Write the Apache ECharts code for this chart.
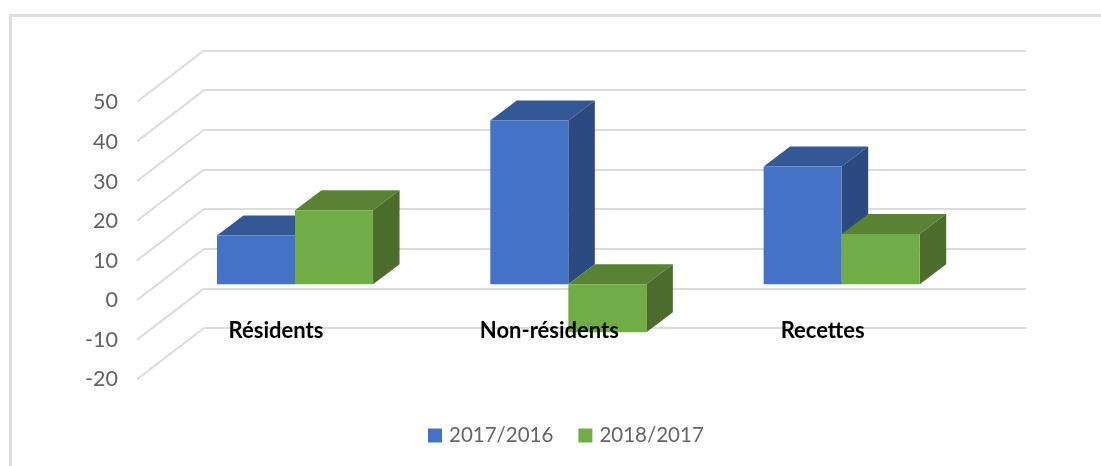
<!DOCTYPE html>
<html>
<head>
<meta charset="utf-8">
<style>html,body{margin:0;padding:0;background:#fff}#c{width:1101px;height:466px}</style>
<script src="https://cdn.jsdelivr.net/npm/echarts@6/dist/echarts.min.js"></script>
</head>
<body>
<div id="c"></div>
<script>
const categories = ['Résidents', 'Non-résidents', 'Recettes'];
const seriesNames = ['2017/2016', '2018/2017'];
const values2017 = [12.3, 41.3, 29.7];
const values2018 = [18.7, -12.1, 12.7];
const valueTicks = [50, 40, 30, 20, 10, 0, -10, -20];

const palettes = [
  { front: '#4472c4', top: '#345796', side: '#2c4a80' },
  { front: '#70ad47', top: '#598234', side: '#4b6c2a' }
];
const GRID_COLOR = '#dcdcdc';
const DEPTH = { x: 26.5, y: 20 };           // bar depth on screen
const TO_BACK = { x: 45.7, y: 35.6 };       // bar plane to back wall
const TO_FRONT = { x: 21.3, y: 15.7 };      // bar plane to front edge
const BAR_FRACTION = 0.2855;

function boxRenderer(seriesIndex) {
  const pal = palettes[seriesIndex];
  return function (params, api) {
    const cat = api.value(0), v = api.value(1);
    const bw = api.size([1, 0])[0] * BAR_FRACTION;
    const c = api.coord([cat, 0]);
    const vp = api.coord([cat, v]);
    const x0 = c[0] + (seriesIndex === 0 ? -bw : 0);
    const x1 = x0 + bw;
    const yTop = Math.min(c[1], vp[1]);
    const yBot = Math.max(c[1], vp[1]);
    const dx = DEPTH.x, dy = DEPTH.y;
    return {
      type: 'group',
      children: [
        { type: 'polygon', shape: { points: [[x0, yTop], [x1, yTop], [x1 + dx, yTop - dy], [x0 + dx, yTop - dy]] }, style: { fill: pal.top } },
        { type: 'polygon', shape: { points: [[x1, yTop], [x1 + dx, yTop - dy], [x1 + dx, yBot - dy], [x1, yBot]] }, style: { fill: pal.side } },
        { type: 'rect', shape: { x: x0, y: yTop, width: bw, height: yBot - yTop }, style: { fill: pal.front } }
      ]
    };
  };
}

function slantRenderer(params, api) {
  const p = api.coord([0, api.value(1)]);
  const left = params.coordSys.x;
  return {
    type: 'line',
    shape: { x1: left - TO_FRONT.x, y1: p[1] + TO_FRONT.y, x2: left + TO_BACK.x, y2: p[1] - TO_BACK.y },
    style: { stroke: GRID_COLOR, lineWidth: 2 }
  };
}

const hiddenX = { type: 'value', show: false, min: 0, max: 1 };
const yBase = { type: 'value', min: -20, max: 50, interval: 10 };

const chart = echarts.init(document.getElementById('c'), null, { renderer: 'canvas' });
chart.setOption({
  animation: false,
  backgroundColor: '#ffffff',
  textStyle: { fontFamily: 'Lato' },
  grid: [
    { left: 158.33, width: 820, top: 86.05, height: 277.55 },  // bar plane
    { left: 204, width: 822, top: 50.5, height: 277.5 },       // back wall
    { left: 125, width: 100, top: 102.5, height: 277 }         // front edge, tick labels
  ],
  xAxis: [
    {
      type: 'category', gridIndex: 0, data: categories,
      axisLine: { show: false }, axisTick: { show: false },
      z: 10,
      axisLabel: {
        margin: -43.5, padding: [0, 38, 0, 0],
        fontFamily: 'Lato', fontWeight: 'bold', fontSize: 22, color: '#000000'
      }
    },
    Object.assign({ gridIndex: 1 }, hiddenX),
    Object.assign({ gridIndex: 2 }, hiddenX)
  ],
  yAxis: [
    Object.assign({ gridIndex: 0, show: false }, yBase),
    Object.assign({ gridIndex: 1, axisLabel: { show: false }, axisLine: { show: false }, axisTick: { show: false },
      splitLine: { show: true, lineStyle: { color: GRID_COLOR, width: 2 } } }, yBase),
    Object.assign({ gridIndex: 2, axisLine: { show: false }, axisTick: { show: false }, splitLine: { show: false },
      axisLabel: { margin: 7, fontFamily: 'Lato', fontSize: 21.5, color: '#636363' } }, yBase)
  ],
  legend: {
    left: 423, top: 420,
    data: seriesNames,
    icon: 'rect', itemWidth: 14, itemHeight: 14, itemGap: 25,
    textStyle: { fontFamily: 'Lato', fontSize: 20.5, color: '#666666', padding: [0, 0, 0, 2] }
  },
  series: [
    {
      type: 'custom', xAxisIndex: 0, yAxisIndex: 0, silent: true, z: 1,
      encode: { x: 0, y: 1 },
      data: valueTicks.map(v => [0, v]),
      renderItem: slantRenderer
    },
    {
      type: 'custom', name: seriesNames[0], xAxisIndex: 0, yAxisIndex: 0, z: 3,
      encode: { x: 0, y: 1 },
      itemStyle: { color: palettes[0].front },
      data: values2017.map((v, i) => [i, v]),
      renderItem: boxRenderer(0)
    },
    {
      type: 'custom', name: seriesNames[1], xAxisIndex: 0, yAxisIndex: 0, z: 3,
      encode: { x: 0, y: 1 },
      itemStyle: { color: palettes[1].front },
      data: values2018.map((v, i) => [i, v]),
      renderItem: boxRenderer(1)
    }
  ],
  graphic: [{
    type: 'polyline', silent: true, z: 0,
    shape: { points: [[10.5, 466], [10.5, 15.5], [1101, 15.5]] },
    style: { fill: null, stroke: '#dedede', lineWidth: 3 }
  }]
});
</script>
</body>
</html>
